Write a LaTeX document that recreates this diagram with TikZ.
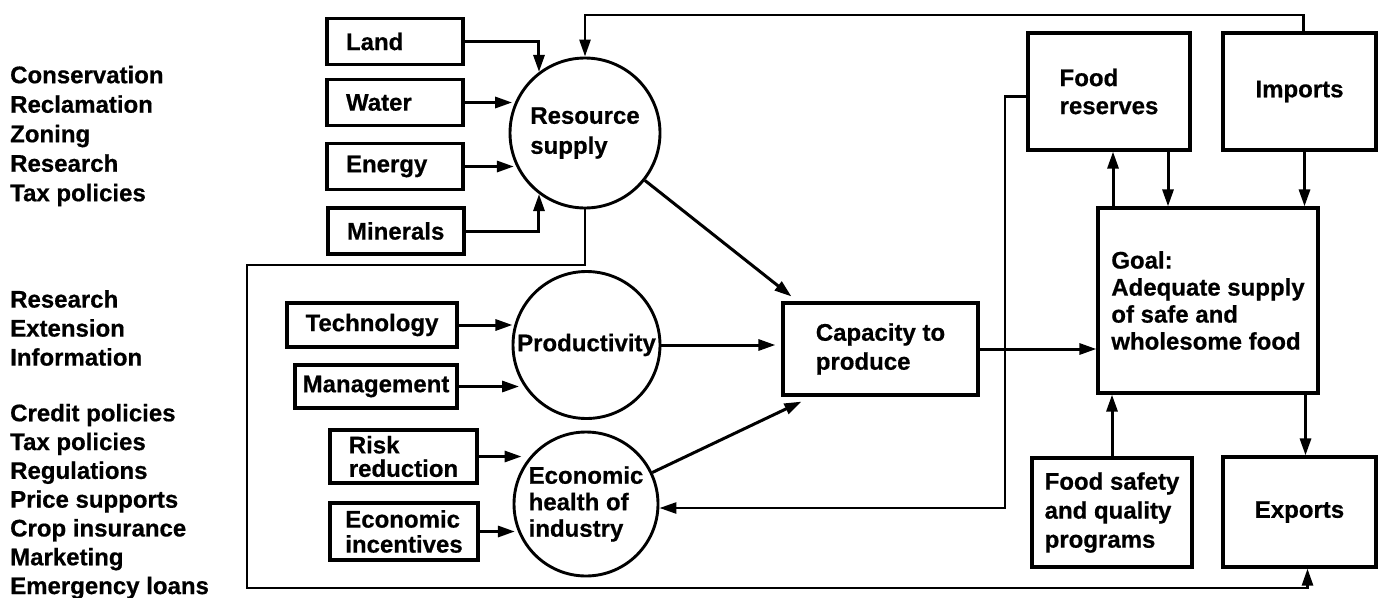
\documentclass[tikz,border=0pt]{standalone}
\usepackage{fontspec}
\setmainfont{Liberation Sans}[BoldFeatures={FakeBold=0.6}]
\usetikzlibrary{arrows.meta}
\begin{document}
\begin{tikzpicture}[x=1pt,y=-1pt,
  every node/.style={font=\fontsize{24}{29}\selectfont\bfseries, inner sep=0pt},
  box/.style={draw, line width=3.2pt, rectangle, align=left},
  topbox/.style={box, text width=98pt, inner xsep=19pt, minimum height=46pt},
  circ/.style={draw, line width=2.9pt, circle, align=left},
  arr/.style={line width=3pt, -{Triangle[length=17pt,width=11pt]}},
  fb/.style={line width=2.7pt},
  side/.style={anchor=west, align=left},
]
\useasboundingbox (0,0) rectangle (1378,597);

% left column texts
\node[side, font=\fontsize{24}{29.5}\selectfont\bfseries] (g1) at (10,136) {Conservation\\Reclamation\\Zoning\\Research\\Tax policies};
\node[side] (g2) at (10,328) {Research\\Extension\\Information};
\node[side, font=\fontsize{24}{28.8}\selectfont\bfseries] (g3) at (10,501.5) {Credit policies\\Tax policies\\Regulations\\Price supports\\Crop insurance\\Marketing\\Emergency loans};

% resource inputs
\node[topbox] (land) at (395,41.5) {Land};
\node[topbox] (water) at (395,102.5) {Water};
\node[topbox] (energy) at (395,166.5) {Energy};
\node[topbox] (minerals) at (396,231) {Minerals};

% circles
\node[circ, minimum size=150pt, font=\fontsize{24}{30}\selectfont\bfseries] (res) at (585,133) {Resource\\supply};
\node[circ, minimum size=147pt] (prod) at (586.5,345) {Productivity};
\node[circ, minimum size=144pt, font=\fontsize{24}{26.5}\selectfont\bfseries] (econ) at (586,504) {Economic\\health of\\industry};

% lower inputs
\node[box, minimum width=170pt, minimum height=44pt] (tech) at (372,325) {Technology};
\node[box, minimum width=162pt, minimum height=43pt] (mgmt) at (376,386.5) {Management};
\node[box, minimum width=147pt, minimum height=53pt, font=\fontsize{24}{23.5}\selectfont\bfseries] (risk) at (403.5,456.5) {Risk\\reduction};
\node[box, minimum width=148pt, minimum height=57pt, font=\fontsize{24}{25}\selectfont\bfseries] (incent) at (404,531.5) {Economic\\incentives};

% right part
\node[box, minimum width=195pt, minimum height=92pt] (cap) at (880.5,349) {Capacity to\\produce};
\node[box, minimum width=162pt, minimum height=117pt, font=\fontsize{24}{28}\selectfont\bfseries] (fres) at (1109,91.5) {Food\\reserves};
\node[box, minimum width=153pt, minimum height=117pt] (imports) at (1299.5,91.5) {Imports};
\node[box, minimum width=220pt, minimum height=185pt, font=\fontsize{24}{27}\selectfont\bfseries] (goal) at (1208,300.5) {Goal:\\Adequate supply\\of safe and\\wholesome food};
\node[box, minimum width=160pt, minimum height=109pt] (fsafe) at (1112,512.5) {Food safety\\and quality\\programs};
\node[box, minimum width=153pt, minimum height=110pt] (exports) at (1299.5,512) {Exports};

% helper coordinates
\coordinate (topy) at (0,15);
\coordinate (fu) at ([xshift=4pt]fres.south);
\coordinate (fd) at ([xshift=59pt]fres.south);
\coordinate (im) at ([xshift=5pt]imports.south);
\coordinate (ge) at ([xshift=6pt]exports.north);
\coordinate (fx) at (1005,508);
\coordinate (la) at (247,265);
\coordinate (lb) at (247,588);
\coordinate (ex) at ([xshift=8pt]exports.south);
\coordinate (topx) at ([xshift=4pt]imports.north);

% resource inputs
\draw[arr] (land.east) -| (res.127);
\draw[arr, shorten >=3pt] (water.east) -- (water.east -| res.156);
\draw[arr, shorten >=3pt] (energy.east) -- (energy.east -| res.207);
\draw[arr] (minerals.east) -| (res.233);

% productivity inputs
\draw[arr, shorten >=2pt] (tech.east) -- (tech.east -| prod.164);
\draw[arr, shorten >=6pt] (mgmt.east) -- (mgmt.east -| prod.215);

% economic health inputs
\draw[arr, shorten >=9pt] (risk.east) -- (risk.east -| econ.139);
\draw[arr, shorten >=3pt] (incent.east) -- (incent.east -| econ.202);

% to capacity
\draw[arr] (res) -- ([xshift=10pt,yshift=5pt]cap.north west);
\draw[arr, shorten >=6pt] (prod) -- (prod -| cap.west);
\draw[arr] (econ) -- ([xshift=20pt,yshift=-5pt]cap.south west);
\draw[arr] (cap.east) -- (cap.east -| goal.west);

% around goal
\draw[arr] (fu |- goal.north) -- (fu);
\draw[arr] (fd) -- (fd |- goal.north);
\draw[arr] (im) -- (im |- goal.north);
\draw[arr] (fsafe.north) -- (fsafe.north |- goal.south);
\draw[arr] (ge |- goal.south) -- (ge);

% feedback loops
\draw[arr, fb] (topx) -- (topx |- topy) -| (res.north);
\draw[arr, fb] ([yshift=-5pt]fres.west) -| (fx) -- (fx -| econ.east);
\draw[arr, fb] (res.south) |- (la) -- (lb) -| (ex);
\end{tikzpicture}
\end{document}
